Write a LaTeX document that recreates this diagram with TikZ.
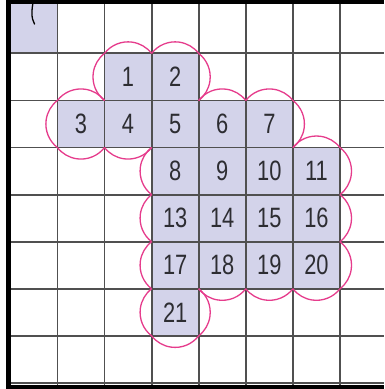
\documentclass[tikz,border=0pt]{standalone}
\usepackage{fontspec}
\newfontfamily\digfont[FakeStretch=0.78]{Liberation Sans}
\definecolor{lav}{RGB}{211,211,234}
\definecolor{pinkline}{RGB}{230,60,140}
\definecolor{gridc}{RGB}{80,80,80}
\definecolor{numc}{RGB}{45,45,50}
\begin{document}
\begin{tikzpicture}[x=1pt,y=-1pt,
  gridline/.style={draw=gridc,line width=1.8pt},
  borderline/.style={draw=black,line width=4.5pt},
  pinkarc/.style={draw=pinkline,line width=1.3pt},
  numtext/.style={inner sep=0pt,text=numc,font=\digfont\fontsize{28}{28}\selectfont}]
\useasboundingbox (0,0) rectangle (384,389);
\fill[white] (0,0) rectangle (384,389);
% shaded cells
\fill[lav] (8,4) rectangle (57.4,53.4);
\foreach \c/\r in {2/1,3/1,1/2,2/2,3/2,4/2,5/2,3/3,4/3,5/3,6/3,3/4,4/4,5/4,6/4,3/5,4/5,5/5,6/5,3/6}{
  \pgfmathsetmacro\xa{10.3+47.1*\c}
  \pgfmathsetmacro\ya{6.3+47.08*\r}
  \fill[lav] (\xa,\ya) rectangle ++(47.1,47.08);
}
% grid
\foreach \i in {1,...,7}{
  \pgfmathsetmacro\xx{10.3+47.1*\i}
  \draw[gridline] (\xx,4) -- (\xx,385);
}
\foreach \j in {1,...,8}{
  \pgfmathsetmacro\yy{6.3+47.08*\j}
  \draw[gridline] (8,\yy) -- (384,\yy);
}
% borders
\draw[borderline] (8.5,0) -- (8.5,389);
\draw[borderline,line width=4pt] (6,2) -- (384,2);
\draw[borderline] (6,387) -- (384,387);
% stray mark
\draw[line width=1.3pt,line cap=round] (33.5,0) .. controls (31.5,10) and (31,18) .. (34.5,24);
% scalloped outline
\foreach \c/\r/\p in {2/1/270,2/1/180,3/1/270,3/1/0,1/2/270,1/2/180,1/2/90,2/2/90,4/2/270,5/2/270,5/2/0,6/3/270,6/3/0,3/3/180,3/4/180,6/4/0,3/5/180,4/5/90,5/5/90,6/5/0,6/5/90,3/6/180,3/6/90,3/6/0}{
  \pgfmathsetmacro\cxx{10.3+47.1*\c+23.55+5.27*cos(\p)}
  \pgfmathsetmacro\cyy{6.3+47.08*\r+23.54+5.27*sin(\p)}
  \pgfmathsetmacro\sa{\p-52.3}
  \pgfmathsetmacro\ea{\p+52.3}
  \draw[pinkarc] ([shift={(\sa:29.8)}]\cxx,\cyy) arc[start angle=\sa,end angle=\ea,radius=29.8];
}
% numbers
\foreach \c/\r/\t in {2/1/1,3/1/2,1/2/3,2/2/4,3/2/5,4/2/6,5/2/7,3/3/8,4/3/9,5/3/10,6/3/11,3/4/13,4/4/14,5/4/15,6/4/16,3/5/17,4/5/18,5/5/19,6/5/20,3/6/21}{
  \pgfmathsetmacro\xc{10.3+47.1*\c+23.55}
  \pgfmathsetmacro\yc{6.3+47.08*\r+23.54}
  \node[numtext] (n\t) at (\xc,\yc) {\t};
}
\end{tikzpicture}
\end{document}
